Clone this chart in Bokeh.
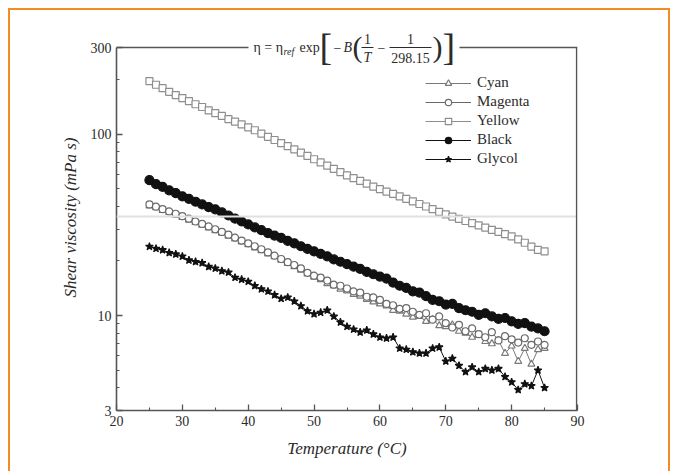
from math import log10
from bokeh.plotting import figure
from bokeh.models import FixedTicker, Legend, LegendItem, Label, Arrow, Span, NumeralTickFormatter
from bokeh.embed import file_html
from bokeh.resources import INLINE

# ---------------- data ----------------
temperature = list(range(25, 86))

cyan = [40.2, 39.4, 38.0, 37.0, 35.8, 34.8, 33.6, 32.6, 31.5, 30.4,
        29.4, 28.5, 27.4, 26.5, 25.5, 24.6, 23.6, 22.8, 21.9, 21.1,
        20.2, 19.4, 18.6, 17.8, 17.0, 16.3, 15.8, 15.0, 14.6, 14.0,
        13.7, 13.1, 12.8, 12.3, 11.9, 11.6, 11.3, 10.7, 10.6, 10.2,
        9.8, 9.9, 9.3, 9.5, 8.8, 8.7, 8.9, 8.2, 8.0, 7.6,
        7.8, 7.2, 7.0, 7.3, 6.2, 6.8, 5.6, 6.6, 5.4, 6.5, 6.6]

magenta = [41.0, 39.8, 38.6, 37.5, 36.4, 35.3, 34.2, 33.0, 32.0, 31.0,
           29.9, 28.9, 27.9, 26.9, 25.9, 25.0, 24.1, 23.2, 22.3, 21.4,
           20.5, 19.7, 19.0, 18.2, 17.2, 16.6, 16.2, 15.6, 14.8, 14.6,
           14.1, 13.6, 13.4, 12.7, 12.6, 12.2, 11.6, 11.4, 10.9, 11.0,
           10.5, 10.1, 10.3, 9.5, 9.9, 9.1, 8.6, 8.9, 8.2, 8.5,
           7.9, 7.6, 8.1, 7.3, 7.7, 7.4, 7.1, 7.5, 6.9, 7.2, 6.9]

yellow = [196, 187, 179, 171, 164, 158, 152, 146, 141, 135,
          130.6, 126, 121, 117, 113, 109, 105, 100.5, 96.6, 92.8,
          89.2, 85.8, 82.4, 79.0, 75.8, 72.7, 69.8, 67.0, 64.3, 61.8,
          59.3, 57.2, 55.2, 53.3, 51.4, 49.7, 48.2, 46.8, 45.4, 44.0,
          42.6, 41.2, 39.9, 38.6, 37.3, 36.1, 35.1, 34.1, 33.2, 32.3,
          31.4, 30.5, 29.7, 28.9, 28.1, 27.3, 26.3, 25.2, 24.0, 23.0, 22.6]

black = [55.7, 53.0, 51.2, 49.0, 47.3, 45.4, 44.0, 42.4, 41.0, 39.6,
         38.5, 37.0, 35.6, 34.2, 33.0, 31.8, 30.6, 29.6, 28.5, 27.6,
         26.8, 25.8, 25.0, 24.1, 23.3, 22.6, 21.9, 21.2, 20.4, 19.8,
         19.2, 18.6, 18.1, 17.4, 16.9, 16.4, 16.0, 15.2, 14.6, 14.2,
         13.6, 13.4, 12.8, 12.2, 12.0, 11.5, 11.6, 11.0, 10.7, 10.5,
         10.1, 10.3, 9.9, 9.6, 9.7, 9.3, 9.0, 9.1, 8.7, 8.5, 8.2]

glycol = [24.0, 23.4, 23.0, 22.2, 21.8, 21.2, 20.2, 19.8, 19.5, 18.6,
          18.2, 17.6, 17.3, 16.2, 15.8, 15.4, 14.6, 14.0, 13.6, 13.0,
          12.4, 12.6, 12.0, 11.3, 10.6, 10.2, 10.4, 10.7, 9.9, 9.2,
          8.7, 8.4, 8.1, 8.3, 7.9, 7.6, 7.5, 7.6, 6.6, 6.5,
          6.3, 6.2, 6.2, 6.6, 6.7, 5.6, 5.8, 5.3, 4.9, 5.2,
          4.9, 5.1, 5.0, 5.1, 4.6, 4.3, 3.9, 4.2, 4.1, 5.0, 4.0]

x_ticks = [20, 30, 40, 50, 60, 70, 80, 90]
x_minor = [25, 35, 45, 55, 65, 75, 85]
y_ticks = [3, 10, 100, 300]
y_minor = [4, 5, 6, 7, 8, 9, 20, 30, 40, 50, 60, 70, 80, 90, 200]
series_names = ["Cyan", "Magenta", "Yellow", "Black", "Glycol"]
ref_line = 35.2  # faint grey horizontal line across the frame

SERIF = "Liberation Serif"
TXT = "#2b2b2b"
FRAME = "#555555"
ORANGE = "#F28C28"

# axes box (canvas pixels): left 116, top 47, 461 x 363 ; the frame reaches up to 24
FL, FT, FW, FH = 116, 47, 461, 363
TOP = 24
X0, X1, Y0, Y1 = 20, 90, 3, 300


def xd(px):
    return X0 + (px - FL) * (X1 - X0) / FW


def yd(py):
    return 10 ** (log10(Y1) - (py - FT) * (log10(Y1) - log10(Y0)) / FH)


g = f"linear-gradient({ORANGE},{ORANGE})"
page_bg = (f"{g} 8px 8px / 662px 2px no-repeat, "
           f"{g} 8px 8px / 2px 470px no-repeat, "
           f"{g} 668px 8px / 2px 470px no-repeat, white")

p = figure(x_range=(X0, X1), y_range=(Y0, yd(TOP)), y_axis_type="log", title=None,
           frame_width=FW, frame_height=FH + FT - TOP,
           min_border_left=FL, min_border_right=677 - FL - FW,
           min_border_top=TOP, min_border_bottom=471 - FT - FH,
           output_backend="svg", toolbar_location=None,
           background_fill_color="white", border_fill_color=None,
           styles={"background": page_bg})
p.outline_line_color = None
p.xgrid.visible = False
p.ygrid.visible = False

for ax, tk, mn in ((p.xaxis, x_ticks, x_minor), (p.yaxis, y_ticks, y_minor)):
    ax.ticker = FixedTicker(ticks=tk, minor_ticks=mn)
    ax.major_tick_in = 6
    ax.major_tick_out = 0
    ax.minor_tick_in = 3
    ax.minor_tick_out = 0
    ax.axis_line_color = FRAME
    ax.axis_line_width = 1.6
    ax.major_tick_line_color = FRAME
    ax.minor_tick_line_color = FRAME
    ax.major_tick_line_width = 1.3
    ax.minor_tick_line_width = 1.1
    ax.major_label_text_font = SERIF
    ax.major_label_text_font_size = "14px"
    ax.major_label_text_color = TXT
    ax.axis_label_text_font = SERIF
    ax.axis_label_text_font_size = "17px"
    ax.axis_label_text_font_style = "italic"
    ax.axis_label_text_color = TXT
    ax.formatter = NumeralTickFormatter(format="0")

p.yaxis.bounds = (Y0, Y1)
p.xaxis.axis_label = "Temperature (°C)"
p.yaxis.axis_label = "Shear viscosity (mPa s)"
p.xaxis.major_label_standoff = 5
p.yaxis.major_label_standoff = 5
p.xaxis.axis_label_standoff = 10
p.yaxis.axis_label_standoff = 8

# faint grey line
p.add_layout(Span(location=ref_line, dimension="width", line_color="#e0e0e0", line_width=2))

# series
styles = [
    dict(marker="triangle", size=7, fill_color="white", line_color="#7a7a7a"),
    dict(marker="circle", size=7, fill_color="white", line_color="#6a6a6a"),
    dict(marker="square", size=7, fill_color="white", line_color="#8e8e8e"),
    dict(marker="circle", size=9, fill_color="#111111", line_color="#111111"),
    dict(marker="star", size=8, fill_color="#111111", line_color="#111111"),
]
data = [cyan, magenta, yellow, black, glycol]
items = []
for name, ys, st in zip(series_names, data, styles):
    ln = p.line(temperature, ys, line_color=st["line_color"], line_width=1)
    sc = p.scatter(temperature, ys, marker=st["marker"], size=st["size"],
                   fill_color=st["fill_color"], line_color=st["line_color"], line_width=1.2)
    items.append(LegendItem(label=name, renderers=[ln, sc]))

legend = Legend(items=items, location=(309, 243), padding=0, margin=0,
                border_line_color=None, background_fill_alpha=0,
                glyph_width=46, glyph_height=16, label_height=16, spacing=2,
                label_standoff=6, label_text_font=SERIF, label_text_font_size="15px",
                label_text_color=TXT)
p.add_layout(legend)


def seg(xa, ya, xb, yb, w=1.6, c=FRAME):
    p.add_layout(Arrow(x_start=xa, y_start=ya, x_end=xb, y_end=yb, start=None, end=None,
                       line_color=c, line_width=w))


# box: right side and top with a gap for the formula
seg(xd(FL + FW - 0.8), Y0, xd(FL + FW - 0.8), Y1)
seg(X0, Y1, xd(248), Y1)
seg(xd(459), Y1, xd(FL + FW), Y1)


# formula  eta = eta_ref exp[-B(1/T - 1/298.15)]
def lab(text, px, py, size=14, style="normal", align="left"):
    p.add_layout(Label(x=xd(px), y=yd(py), text=text, text_font=SERIF,
                       text_font_size=f"{size}px", text_font_style=style,
                       text_color=TXT, text_align=align, text_baseline="middle"))


lab("η = η", 253, 47)
lab("ref", 283, 51, size=10, style="italic")
lab("exp", 299, 47)
lab("[", 319, 46, size=38)
lab("−", 333, 47)
lab("B", 343, 47, style="italic")
lab("(", 352, 46, size=30)
lab("1", 367, 38, align="center")
lab("T", 367, 57, style="italic", align="center")
seg(xd(361), yd(47), xd(373), yd(47), w=1, c=TXT)
lab("−", 381, 47, align="center")
lab("1", 410, 38, align="center")
lab("298.15", 410, 57, align="center")
seg(xd(389), yd(47), xd(431), yd(47), w=1, c=TXT)
lab(")", 432, 46, size=30)
lab("]", 442, 46, size=38)

open("out.html", "w").write(file_html(p, INLINE))
